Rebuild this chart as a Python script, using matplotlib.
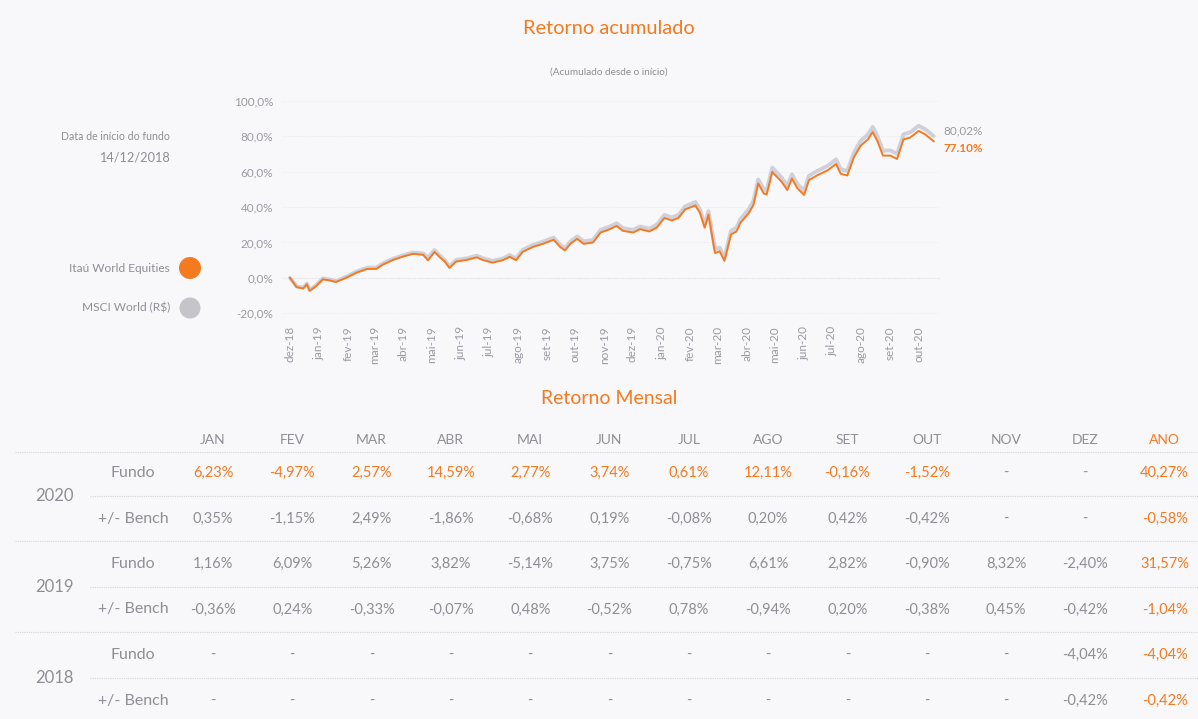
import pandas as pd
import matplotlib.pyplot as plt
from matplotlib.patches import Circle

plt.rcParams['font.family'] = ['Lato', 'DejaVu Sans']

LARANJA = '#f47a20'
CINZA_TXT = '#8e8e96'
CINZA_LINHA = '#d0d0da'
FUNDO_FIG = '#f8f8fa'

# Retorno acumulado (%), fundo x benchmark
datas = ["2018-12-14", "2018-12-21", "2018-12-28", "2019-01-01", "2019-01-04", "2019-01-11",
         "2019-01-18", "2019-01-25", "2019-02-01", "2019-02-12", "2019-02-23", "2019-03-06",
         "2019-03-16", "2019-03-23", "2019-04-03", "2019-04-14", "2019-04-24", "2019-05-05",
         "2019-05-10", "2019-05-17", "2019-05-22", "2019-05-28", "2019-06-02", "2019-06-09",
         "2019-06-20", "2019-07-01", "2019-07-08", "2019-07-18", "2019-07-29", "2019-08-05",
         "2019-08-12", "2019-08-19", "2019-08-30", "2019-09-10", "2019-09-21", "2019-09-28",
         "2019-10-03", "2019-10-09", "2019-10-16", "2019-10-23", "2019-11-02", "2019-11-10",
         "2019-11-20", "2019-11-27", "2019-12-04", "2019-12-15", "2019-12-22", "2020-01-01",
         "2020-01-09", "2020-01-17", "2020-01-25", "2020-02-01", "2020-02-08", "2020-02-19",
         "2020-02-24", "2020-02-29", "2020-03-04", "2020-03-11", "2020-03-16", "2020-03-21",
         "2020-03-28", "2020-04-03", "2020-04-07", "2020-04-16", "2020-04-21", "2020-04-26",
         "2020-05-02", "2020-05-05", "2020-05-11", "2020-05-16", "2020-05-21", "2020-05-27",
         "2020-06-01", "2020-06-07", "2020-06-14", "2020-06-19", "2020-06-28", "2020-07-09",
         "2020-07-18", "2020-07-23", "2020-07-30", "2020-08-06", "2020-08-13", "2020-08-21",
         "2020-08-26", "2020-08-31", "2020-09-06", "2020-09-14", "2020-09-21", "2020-09-28",
         "2020-10-05", "2020-10-14", "2020-10-21", "2020-10-30"]

fundo = [0.0, -5.2, -6.0, -3.6, -7.3, -4.5, -0.8, -1.4, -2.3, 0.1, 3.0, 5.0,
         5.1, 7.5, 10.2, 12.1, 13.6, 13.0, 9.9, 14.6, 12.0, 9.2, 5.6, 9.2,
         10.1, 11.6, 10.0, 8.6, 10.0, 11.9, 10.0, 14.7, 17.5, 19.3, 21.5, 17.4,
         15.5, 19.3, 22.0, 19.2, 20.0, 25.6, 27.5, 29.3, 26.5, 25.6, 27.5, 26.2,
         28.4, 33.8, 32.4, 33.8, 38.6, 40.9, 36.6, 28.3, 35.7, 14.0, 15.0, 9.6,
         24.5, 26.3, 31.0, 36.6, 41.2, 53.3, 47.6, 47.0, 59.8, 57.0, 54.2, 49.6,
         56.0, 50.4, 46.8, 55.1, 57.9, 60.7, 64.3, 58.7, 57.8, 68.0, 74.5, 78.2,
         82.3, 77.3, 69.0, 69.0, 67.1, 78.2, 79.2, 82.9, 81.0, 77.10]

msci = [0.0, -4.8, -5.5, -3.2, -6.9, -4.0, -0.3, -0.9, -1.8, 0.7, 3.6, 5.7,
        5.8, 8.2, 10.9, 12.8, 14.3, 13.8, 11.4, 15.7, 12.9, 10.1, 6.5, 10.1,
        11.0, 12.5, 11.0, 9.6, 11.0, 12.9, 11.0, 15.8, 18.6, 20.5, 22.7, 18.6,
        16.8, 20.6, 23.4, 20.6, 21.4, 27.1, 29.0, 30.8, 28.0, 27.1, 29.0, 27.8,
        30.0, 35.5, 34.1, 35.5, 40.3, 42.8, 38.5, 30.1, 37.6, 16.2, 17.0, 11.4,
        26.6, 28.4, 33.1, 38.8, 43.5, 55.6, 49.9, 49.3, 62.2, 59.4, 56.6, 52.0,
        58.4, 52.8, 49.2, 57.5, 60.3, 63.2, 66.9, 61.3, 60.4, 70.6, 77.2, 80.9,
        85.2, 80.1, 71.8, 71.9, 70.0, 81.1, 82.1, 85.8, 83.9, 80.02]

rotulos_meses = ["dez-18", "jan-19", "fev-19", "mar-19", "abr-19", "mai-19", "jun-19",
                 "jul-19", "ago-19", "set-19", "out-19", "nov-19", "dez-19", "jan-20",
                 "fev-20", "mar-20", "abr-20", "mai-20", "jun-20", "jul-20", "ago-20",
                 "set-20", "out-20"]

# Retorno mensal (%); None = sem dado
meses = ["JAN", "FEV", "MAR", "ABR", "MAI", "JUN", "JUL", "AGO", "SET", "OUT", "NOV", "DEZ", "ANO"]
anos = ["2020", "2019", "2018"]
fundo_2020 = [6.23, -4.97, 2.57, 14.59, 2.77, 3.74, 0.61, 12.11, -0.16, -1.52, None, None, 40.27]
bench_2020 = [0.35, -1.15, 2.49, -1.86, -0.68, 0.19, -0.08, 0.20, 0.42, -0.42, None, None, -0.58]
fundo_2019 = [1.16, 6.09, 5.26, 3.82, -5.14, 3.75, -0.75, 6.61, 2.82, -0.90, 8.32, -2.40, 31.57]
bench_2019 = [-0.36, 0.24, -0.33, -0.07, 0.48, -0.52, 0.78, -0.94, 0.20, -0.38, 0.45, -0.42, -1.04]
fundo_2018 = [None] * 11 + [-4.04, -4.04]
bench_2018 = [None] * 11 + [-0.42, -0.42]


def fmt_pct(v):
    return '-' if v is None else f"{v:.2f}%".replace('.', ',')


datas = pd.to_datetime(datas)

fig = plt.figure(figsize=(11.98, 7.19), dpi=100, facecolor=FUNDO_FIG)

# camada de fundo em pixels para textos e tabela
bg = fig.add_axes([0, 0, 1, 1], zorder=0)
bg.set_xlim(0, 1198)
bg.set_ylim(719, 0)
bg.axis('off')

# ---- grafico de retorno acumulado ----
ax = fig.add_axes([283 / 1198, (719 - 315.1) / 719, 657 / 1198, 216.2 / 719], zorder=1)
ax.set_facecolor('none')
inicio = datas[0]
ax.set_xlim(inicio - pd.Timedelta(days=7.5), inicio + pd.Timedelta(days=692.8))
ax.set_ylim(-21, 101)

ax.plot(datas, msci, color=CINZA_LINHA, lw=2.8, solid_capstyle='round', zorder=3)
ax.plot(datas, fundo, color=LARANJA, lw=1.4, zorder=4)

ax.set_yticks(range(-20, 101, 20))
ax.set_yticklabels([f"{v:.1f}%".replace('.', ',') for v in range(-20, 101, 20)])
ticks_x = pd.date_range(inicio, periods=len(rotulos_meses), freq=pd.DateOffset(months=1))
ax.set_xticks(ticks_x)
ax.set_xticklabels(rotulos_meses, rotation=90)
ax.tick_params(length=0, colors='#9a9aa4', labelsize=8.5)
ax.tick_params(axis='y', pad=7)
ax.tick_params(axis='x', pad=8)
for s in ax.spines.values():
    s.set_visible(False)
ax.grid(axis='y', color='#ebebf0', lw=0.7, ls=(0, (1, 1.5)))
ax.axhline(0, color='#dcdce3', lw=0.8, ls=(0, (1, 1)), zorder=1)

ax.annotate(fmt_pct(msci[-1]), xy=(datas[-1], msci[-1]), xytext=(7, 4),
            textcoords='offset points', va='center', ha='left', color='#9a9aa2', fontsize=8.5)
ax.annotate(f"{fundo[-1]:.2f}%", xy=(datas[-1], fundo[-1]), xytext=(7, -5.5),
            textcoords='offset points', va='center', ha='left', color=LARANJA,
            fontsize=8.5, fontweight='bold')

bg.text(609, 28, "Retorno acumulado", color=LARANJA, fontsize=14.4, ha='center', va='center')
bg.text(609, 72, "(Acumulado desde o início)", color=CINZA_TXT, fontsize=7.2, ha='center', va='center')
bg.text(170, 136, "Data de início do fundo", color=CINZA_TXT, fontsize=7.6, ha='right', va='center')
bg.text(170, 157, "14/12/2018", color=CINZA_TXT, fontsize=9.2, ha='right', va='center')

# legenda
bg.text(170, 268, "Itaú World Equities", color=CINZA_TXT, fontsize=8.6, ha='right', va='center')
bg.text(170, 308, "MSCI World (R$)", color=CINZA_TXT, fontsize=8.6, ha='right', va='center')
bg.add_patch(Circle((190, 268), 11, color=LARANJA, lw=0))
bg.add_patch(Circle((190, 308), 10.5, color='#c4c4ca', lw=0))

# ---- tabela de retorno mensal ----
bg.text(609, 399, "Retorno Mensal", color=LARANJA, fontsize=14, ha='center', va='center')

col_x = [213 + 79.3 * i for i in range(len(meses))]
for i, m in enumerate(meses):
    bg.text(col_x[i], 440, m, color=LARANJA if m == "ANO" else CINZA_TXT,
            fontsize=10, ha='center', va='center')

linhas = [(fundo_2020, bench_2020), (fundo_2019, bench_2019), (fundo_2018, bench_2018)]
y0 = 473
passo = 45.5
pontilhado = dict(color='#d2d2da', lw=0.8, ls=(0, (1, 1)))
bg.plot([15, 1198], [452, 452], **pontilhado)
for k, (ano, (f_vals, b_vals)) in enumerate(zip(anos, linhas)):
    y_f = y0 + 2 * k * passo
    y_b = y_f + passo
    bg.text(54, (y_f + y_b) / 2, ano, color=CINZA_TXT, fontsize=12, ha='center', va='center')
    bg.text(133, y_f, "Fundo", color=CINZA_TXT, fontsize=11.5, ha='center', va='center')
    bg.text(133, y_b, "+/- Bench", color=CINZA_TXT, fontsize=11.5, ha='center', va='center')
    for i in range(len(meses)):
        cor_f = LARANJA if (k == 0 or i == len(meses) - 1) else CINZA_TXT
        cor_b = LARANJA if i == len(meses) - 1 else CINZA_TXT
        bg.text(col_x[i], y_f, fmt_pct(f_vals[i]), color=cor_f, fontsize=10.5, ha='center', va='center')
        bg.text(col_x[i], y_b, fmt_pct(b_vals[i]), color=cor_b, fontsize=10.5, ha='center', va='center')
    bg.plot([90, 1198], [(y_f + y_b) / 2] * 2, **pontilhado)
    bg.plot([15, 1198], [y_b + passo / 2] * 2, **pontilhado)

fig.savefig('out.png', dpi=100, facecolor=FUNDO_FIG)
